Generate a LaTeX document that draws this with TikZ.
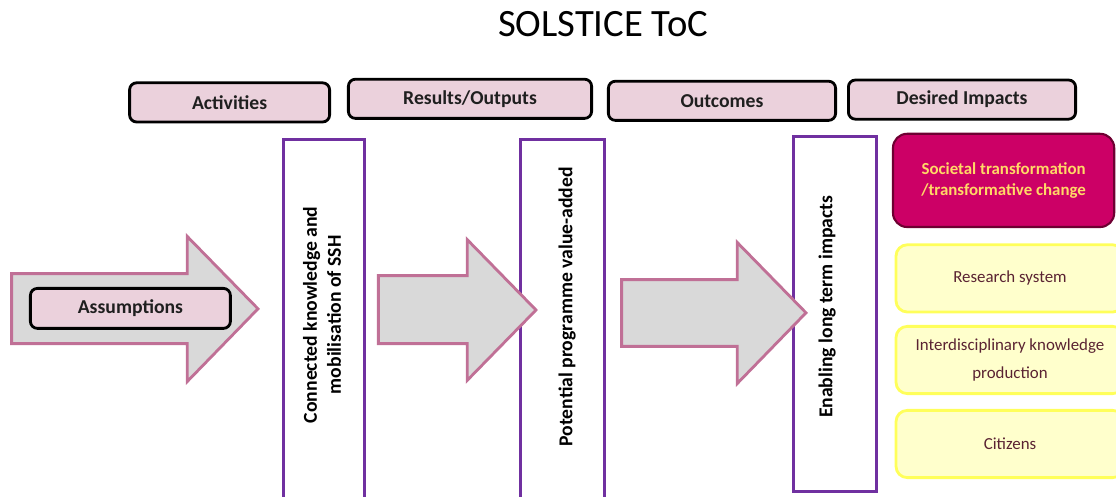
\documentclass[tikz,border=0pt]{standalone}
\usepackage{fontspec}
\setmainfont{Carlito}
\usetikzlibrary{positioning}
\tikzset{every node/.append style={align=center}}
\definecolor{headcolor}{RGB}{235, 209, 220}
\definecolor{arrowfill}{RGB}{217, 217, 217}
\definecolor{arrowline}{RGB}{192, 112, 150}
\definecolor{columnline}{RGB}{112, 48, 160}
\definecolor{impactcolor}{RGB}{204, 0, 102}
\definecolor{impactline}{RGB}{110, 0, 50}
\definecolor{impacttext}{RGB}{255, 217, 102}
\definecolor{areafill}{RGB}{255, 255, 204}
\definecolor{arealine}{RGB}{255, 255, 90}
\definecolor{areatext}{RGB}{90, 35, 50}
\tikzset{
  header/.style={draw=black, line width=2pt, rounded corners=5pt, fill=headcolor,
    text=black!88, font=\fontsize{14}{17}\selectfont\bfseries, minimum height=0.98cm},
  column/.style={draw=columnline, line width=2pt, fill=white},
  coltext/.style={rotate=90, font=\fontsize{14}{17}\selectfont\bfseries},
  bigarrow/.style={draw=arrowline, line width=2pt, fill=arrowfill, line join=miter},
  impact/.style={draw=impactline, line width=1.5pt, rounded corners=10pt, fill=impactcolor,
    text=impacttext, font=\fontsize{12}{15}\selectfont\bfseries},
  area/.style={draw=arealine, line width=2pt, rounded corners=8pt, fill=areafill,
    text=areatext, font=\fontsize{12}{20}\selectfont, minimum width=5.7cm, minimum height=1.68cm}
}

\begin{document}
\begin{tikzpicture}
    \useasboundingbox (0,0) rectangle (27.9,12.4);

    % Title
    \node[font=\fontsize{27.5}{33}\selectfont, anchor=base] (title) at (15.08, 11.5) {SOLSTICE ToC};

    % Stage headers
    \node[header, minimum width=5.0cm] (activities) at (5.74, 9.84) {Activities};
    \node[header, minimum width=6.08cm] (results) at (11.75, 9.93) {Results/Outputs};
    \node[header, minimum width=5.68cm] (outcomes) at (18.05, 9.88) {Outcomes};
    \node[header, minimum width=5.68cm] (desired) at (24.05, 9.91) {Desired Impacts};

    % Columns
    \node[column, minimum width=2.03cm, minimum height=9.12cm] (connected) at (8.1, 4.36) {};
    \node[column, minimum width=2.1cm, minimum height=9.12cm] (value) at (14.06, 4.36) {};
    \node[column, minimum width=2.08cm, minimum height=8.88cm] (enabling) at (20.88, 4.55) {};
    \node[coltext] (connectedtxt) at (8.05, 4.53) {Connected knowledge and\\mobilisation of SSH};
    \node[coltext] (valuetxt) at (14.18, 4.73) {Potential programme value-added};
    \node[coltext] (enablingtxt) at (20.68, 4.73) {Enabling long term impacts};

    % Block arrows
    \draw[bigarrow] (0.29, 5.56) -- (4.68, 5.56) -- (4.68, 6.49) -- (6.45, 4.68)
        -- (4.68, 2.86) -- (4.68, 3.81) -- (0.29, 3.81) -- cycle;
    \draw[bigarrow] (9.46, 5.51) -- (11.68, 5.51) -- (11.68, 6.41) -- (13.4, 4.65)
        -- (11.68, 2.89) -- (11.68, 3.81) -- (9.46, 3.81) -- cycle;
    \draw[bigarrow] (15.54, 5.41) -- (18.43, 5.41) -- (18.43, 6.34) -- (20.15, 4.58)
        -- (18.43, 2.81) -- (18.43, 3.74) -- (15.54, 3.74) -- cycle;
    \node[header, minimum width=5.0cm, minimum height=1.0cm] (assumptions) at (3.26, 4.69) {Assumptions};

    % Impact areas
    \node[impact, minimum width=5.53cm, minimum height=2.33cm] (societal) at (25.09, 7.89)
        {Societal transformation\\/transformative change};
    \node[area] (research) at (25.25, 5.44) {Research system};
    \node[area] (interdisc) at (25.25, 3.4) {Interdisciplinary knowledge\\production};
    \node[area] (citizens) at (25.25, 1.3) {Citizens};
\end{tikzpicture}
\end{document}
